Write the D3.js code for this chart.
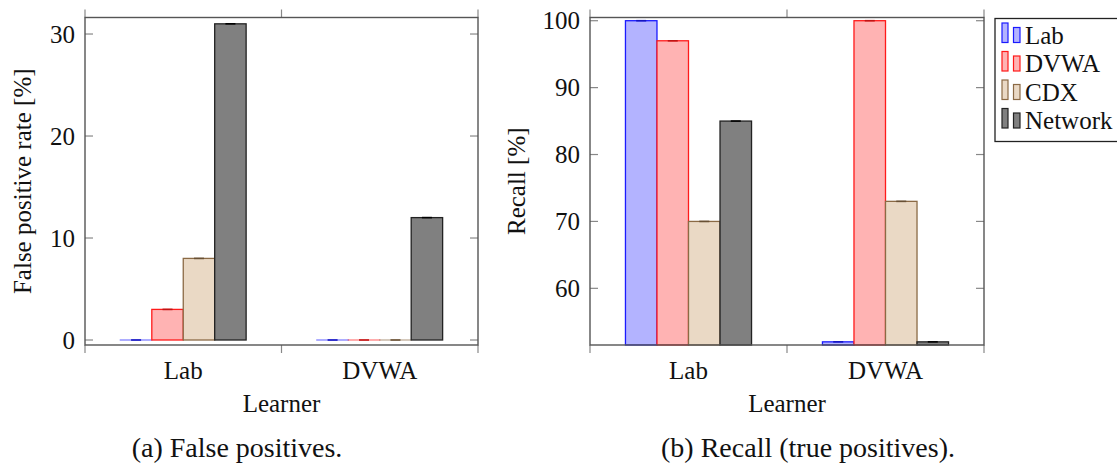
<!DOCTYPE html>
<html>
<head>
<meta charset="utf-8">
<script src="https://cdn.jsdelivr.net/npm/d3@7"></script>
</head>
<body style="margin:0;background:#fff">
<div id="chart"></div>
<script>
// data
const learners = ["Lab", "DVWA"];
const series = ["Lab", "DVWA", "CDX", "Network"];
const fprValues = [[0, 3, 8, 31], [0, 0, 0, 12]];       // per learner, per series
const recallValues = [[100, 97, 70, 85], [52, 100, 73, 52]];
const fprTicks = [0, 10, 20, 30];
const recallTicks = [60, 70, 80, 90, 100];

const fills = ["#b3b3ff", "#ffb3b3", "#ead9c5", "#808080"];
const strokes = ["#1a1aff", "#ff1a1a", "#8b6a45", "#222"];

width = 1117;
height = 466;
fontSize = 25;
captionSize = 28;

const svg = d3.select("#chart").append("svg")
    .attr("width", width)
    .attr("height", height);

// every label goes through here so the serif face is set on the element itself
function label(g, x, y, str, anchor, size) {
  return g.append("text")
    .attr("x", x).attr("y", y)
    .attr("font-family", '"Liberation Serif"')
    .attr("font-size", size || fontSize)
    .attr("fill", "#111")
    .attr("text-anchor", anchor || "start")
    .text(str);
}

function drawPanel(opts) {
  const x = d3.scaleBand().domain(learners).range([opts.x0, opts.x1]).padding(0);
  const barW = x.bandwidth() * 0.16;
  const xs = d3.scaleBand().domain(series).range([0, 4 * barW]).padding(0);
  const off = (x.bandwidth() - 4 * barW) / 2;
  const y = d3.scaleLinear().domain(opts.domain).range([opts.yBot, opts.yTop]);
  const base = Math.max(opts.domain[0], 0);

  const g = svg.append("g");

  // bars
  learners.forEach((l, i) => {
    const grp = g.append("g").attr("transform", `translate(${x(l) + off},0)`);
    grp.selectAll("rect")
      .data(opts.values[i])
      .join("rect")
        .attr("x", (d, j) => xs(series[j]))
        .attr("y", d => y(d))
        .attr("width", xs.bandwidth())
        .attr("height", d => Math.max(y(base) - y(d), 0.01)) // zero bars still show as a line
        .attr("fill", (d, j) => fills[j])
        .attr("stroke", (d, j) => strokes[j])
        .attr("stroke-opacity", d => y(base) - y(d) < 1 ? 0.55 : 1)
        .attr("stroke-width", 1.3);
    // error bar whiskers
    grp.selectAll("line")
      .data(opts.values[i])
      .join("line")
        .attr("x1", (d, j) => xs(series[j]) + xs.bandwidth() / 2 - 5)
        .attr("x2", (d, j) => xs(series[j]) + xs.bandwidth() / 2 + 5)
        .attr("y1", d => y(d))
        .attr("y2", d => y(d))
        .attr("stroke", (d, j) => j == 3 ? "#000" : d3.color(strokes[j]).darker(0.8))
        .attr("stroke-width", 1.6);
  });

  // y ticks (inside, both sides)
  const tl = 8;
  opts.ticks.forEach(t => {
    g.append("line").attr("x1", opts.x0).attr("x2", opts.x0 + tl)
      .attr("y1", y(t)).attr("y2", y(t)).attr("stroke", "#888").attr("stroke-width", 1.2);
    g.append("line").attr("x1", opts.x1 - tl).attr("x2", opts.x1)
      .attr("y1", y(t)).attr("y2", y(t)).attr("stroke", "#888").attr("stroke-width", 1.2);
    label(g, opts.x0 - 10, y(t), t, "end").attr("dy", "0.35em");
  });

  // x ticks at band edges (outside, top and bottom)
  const edges = [opts.x0, opts.x0 + x.bandwidth(), opts.x1];
  edges.forEach(e => {
    g.append("line").attr("x1", e).attr("x2", e).attr("y1", opts.yBot).attr("y2", opts.yBot + tl)
      .attr("stroke", "#888").attr("stroke-width", 1.2);
    g.append("line").attr("x1", e).attr("x2", e).attr("y1", opts.yTop).attr("y2", opts.yTop - tl)
      .attr("stroke", "#888").attr("stroke-width", 1.2);
  });

  // frame
  g.append("rect").attr("x", opts.x0).attr("y", opts.yTop)
    .attr("width", opts.x1 - opts.x0).attr("height", opts.yBot - opts.yTop)
    .attr("fill", "none").attr("stroke", "#555").attr("stroke-width", 1.4);

  // category labels
  learners.forEach(l => label(g, x(l) + x.bandwidth() / 2, 379, l, "middle"));
  label(g, (opts.x0 + opts.x1) / 2, 412, "Learner", "middle");

  label(g, 0, 0, opts.ylabel, "middle")
    .attr("transform", `translate(${opts.ylabelX},${(opts.yTop + opts.yBot) / 2}) rotate(-90)`);

  label(g, opts.captionX, 457, opts.caption, "middle", captionSize);
}

drawPanel({
  x0: 85, x1: 478, yTop: 17.5, yBot: 345,
  domain: [-0.49, 31.62], values: fprValues, ticks: fprTicks,
  ylabel: "False positive rate [%]", ylabelX: 31, caption: "(a) False positives.", captionX: 237
});

drawPanel({
  x0: 590, x1: 984, yTop: 17.5, yBot: 345,
  domain: [51.53, 100.48], values: recallValues, ticks: recallTicks,
  ylabel: "Recall [%]", ylabelX: 525, caption: "(b) Recall (true positives).", captionX: 808
});

// legend
const lg = svg.append("g").attr("transform", "translate(995,18.5)");
lg.append("rect").attr("width", 135).attr("height", 123)
  .attr("fill", "#fff").attr("stroke", "#222").attr("stroke-width", 1.3);
series.forEach((s, i) => {
  const by = 25 + i * 28.5;
  const row = lg.append("g").attr("transform", `translate(0,${by})`);
  row.append("rect").attr("x", 7).attr("y", -20.5).attr("width", 6).attr("height", 19.5)
    .attr("fill", fills[i]).attr("stroke", strokes[i]).attr("stroke-width", 1.2);
  row.append("rect").attr("x", 18.5).attr("y", -16).attr("width", 6.5).attr("height", 15)
    .attr("fill", fills[i]).attr("stroke", strokes[i]).attr("stroke-width", 1.2);
  label(row, 30, 0, s);
});
</script>
</body>
</html>
